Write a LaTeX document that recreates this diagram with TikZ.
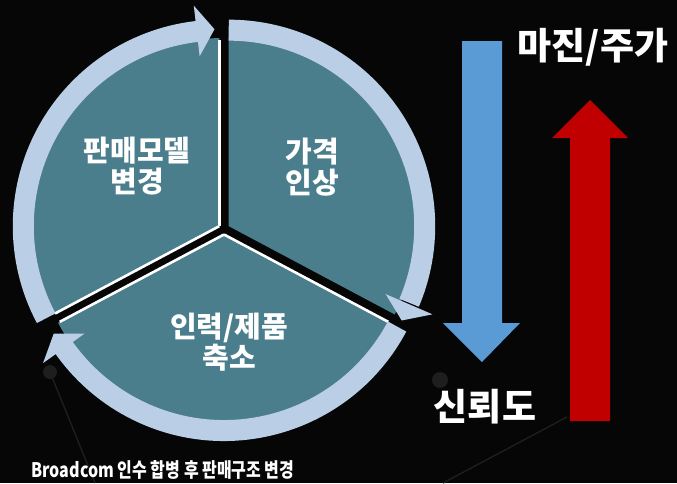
\documentclass[tikz,border=0pt]{standalone}
\usepackage{fontspec}
\newfontfamily\kr{Noto Sans CJK KR}
\definecolor{segteal}{HTML}{4A7E8C}
\definecolor{ringblue}{HTML}{BACEE6}
\definecolor{arrblue}{HTML}{5B9BD5}
\definecolor{arrred}{HTML}{C00000}
\definecolor{decogrey}{HTML}{1E1E1E}
\definecolor{bgblack}{HTML}{060606}
\begin{document}
\begin{tikzpicture}[x=1pt,y=1pt,
  seg/.style={fill=segteal},
  edgeline/.style={draw=white, line width=2.6pt, line cap=butt},
  ringarc/.style={draw=ringblue, line width=21pt, line cap=butt},
  headfill/.style={fill=ringblue},
  lbl/.style={text=white, font=\kr\bfseries\fontsize{29}{31}\selectfont, align=center, inner sep=0pt},
  big/.style={text=white, font=\kr\bfseries\fontsize{37}{40}\selectfont, inner sep=0pt},
  small/.style={text=white, font=\kr\bfseries\fontsize{20}{22}\selectfont, inner sep=0pt},
  deco/.style={draw=decogrey, line width=1.4pt}]
\useasboundingbox (0,0) rectangle (677,-483);
\fill[bgblack] (0,0) rectangle (677,-483);

% faint background decorations
\draw[deco] (50,-372) -- (95,-483);
\fill[decogrey] (50,-372) circle (7);
\draw[deco] (567,-417) -- (443,-483);
\fill[decogrey] (440,-380) circle (8);

\begin{scope}[shift={(224,-229)}]
  % left sector
  \begin{scope}[shift={(149:5.5)}]
    \fill[seg] (0,0) -- (90:188) arc[start angle=90,end angle=208,radius=188] -- cycle;
    \draw[edgeline] (0,0) -- (90:186);
    \draw[edgeline] (0,0) -- (208:186);
    \draw[ringarc] (208:196) arc[start angle=208,end angle=96,radius=196];
    \fill[headfill] (96.6:171) -- (91.4:197) -- (96.6:222) -- cycle;
  \end{scope}
  % right sector
  \begin{scope}[shift={(31:5.5)}]
    \fill[seg] (0,0) -- (-28:188) arc[start angle=-28,end angle=90,radius=188] -- cycle;
    \draw[ringarc] (90:196) arc[start angle=90,end angle=-23,radius=196];
    \fill[headfill] (-23.4:171) -- (-28.6:197) -- (-23.4:222) -- cycle;
  \end{scope}
  % bottom sector
  \begin{scope}[shift={(270:5.5)}]
    \fill[seg] (0,0) -- (208:188) arc[start angle=208,end angle=332,radius=188] -- cycle;
    \draw[edgeline] (0,0) -- (208:186);
    \draw[edgeline] (0,0) -- (332:186);
    \draw[ringarc] (332:196) arc[start angle=332,end angle=215,radius=196];
    \fill[headfill] (215.4:171) -- (210.2:197) -- (215.4:222) -- cycle;
  \end{scope}
\end{scope}

% labels
\node[lbl] (t1) at (137,-166) {판매모델\\변경};
\node[lbl] (t2) at (312,-167) {가격\\인상};
\node[lbl] (t3) at (229,-342) {인력/제품\\축소};

% arrows
\fill[arrblue] (462,-41) -- (502,-41) -- (502,-323) -- (520,-323) -- (482,-362) -- (443,-323) -- (462,-323) -- cycle;
\fill[arrred] (570,-421) -- (610,-421) -- (610,-138) -- (628,-138) -- (590,-100) -- (552,-138) -- (570,-138) -- cycle;

\node[big] (t4) at (593,-47) {마진/주가};
\node[big] (t5) at (485,-407) {신뢰도};
\node[small] (t6) at (163,-470) {\scalebox{0.8}[1]{Broadcom 인수 합병 후 판매구조 변경}};
\end{tikzpicture}
\end{document}
